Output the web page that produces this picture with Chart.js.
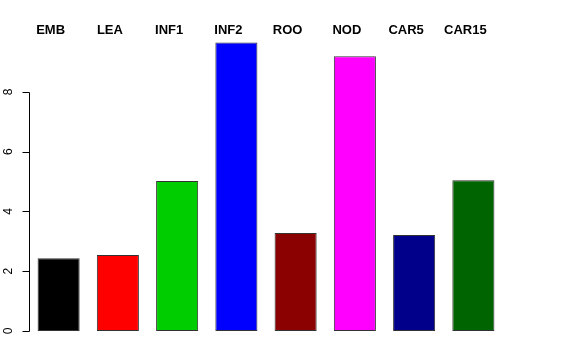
<!DOCTYPE html>
<html>
<head>
<meta charset="utf-8">
<script src="https://cdn.jsdelivr.net/npm/chart.js@4"></script>
<style>
  html, body { margin: 0; padding: 0; background: #fff; }
  #wrap { width: 576px; height: 360px; }
</style>
</head>
<body>
<div id="wrap"><canvas id="c"></canvas></div>
<script>
const categories = ['EMB', 'LEA', 'INF1', 'INF2', 'ROO', 'NOD', 'CAR5', 'CAR15']
const values = [2.43, 2.54, 5.02, 9.65, 3.28, 9.19, 3.21, 5.04]
const barColors = ['#000000', '#ff0000', '#00cd00', '#0000ff', '#8b0000', '#ff00ff', '#00008b', '#006400']
const yTicks = [0, 2, 4, 6, 8]

// R-style axis: line only between first and last tick, labels turned 90 degrees
const rAxis = {
  id: 'rAxis',
  afterDraw(chart) {
    const y = chart.scales.y
    const ctx = chart.ctx
    const x = Math.round(y.right) + 0.5
    ctx.save()
    ctx.strokeStyle = '#000'
    ctx.lineWidth = 1
    ctx.beginPath()
    ctx.moveTo(x, Math.round(y.getPixelForValue(yTicks[0])) + 0.5)
    ctx.lineTo(x, Math.round(y.getPixelForValue(yTicks[yTicks.length - 1])) + 0.5)
    yTicks.forEach((v) => {
      const py = Math.round(y.getPixelForValue(v)) + 0.5
      ctx.moveTo(x, py)
      ctx.lineTo(x - 7, py)
    })
    ctx.stroke()
    ctx.fillStyle = '#000'
    ctx.font = '12px "Liberation Sans", Arial, sans-serif'
    ctx.textAlign = 'center'
    ctx.textBaseline = 'middle'
    yTicks.forEach((v) => {
      ctx.save()
      ctx.translate(9, y.getPixelForValue(v))
      ctx.rotate(-Math.PI / 2)
      ctx.fillText(String(v), 0, 0)
      ctx.restore()
    })
    ctx.restore()
  },
}

new Chart(document.getElementById('c'), {
  type: 'bar',
  data: {
    labels: categories,
    datasets: [
      {
        data: values,
        backgroundColor: barColors,
        borderColor: '#333',
        borderWidth: 1,
        borderSkipped: false,
        categoryPercentage: 1,
        barPercentage: 0.71,
      },
    ],
  },
  options: {
    responsive: true,
    maintainAspectRatio: false,
    animation: false,
    layout: { padding: { left: 0, right: 73, top: 0, bottom: 29 } },
    plugins: {
      legend: { display: false },
      tooltip: { enabled: false },
    },
    scales: {
      x: {
        position: 'top',
        grid: { display: false, drawTicks: false },
        border: { display: false },
        afterFit: (s) => { s.height = 38 },
        ticks: {
          color: '#000',
          labelOffset: -8,
          padding: 0,
          maxRotation: 0,
          autoSkip: false,
          font: { family: '"Liberation Sans", Arial, sans-serif', size: 13, weight: 'bold' },
        },
      },
      y: {
        min: 0,
        max: 9.8,
        afterFit: (s) => { s.width = 29 },
        afterBuildTicks: (s) => { s.ticks = yTicks.map((v) => ({ value: v })) },
        grid: { display: false },
        border: { display: false },
        ticks: { display: false },
      },
    },
  },
  plugins: [rAxis],
})
</script>
</body>
</html>
